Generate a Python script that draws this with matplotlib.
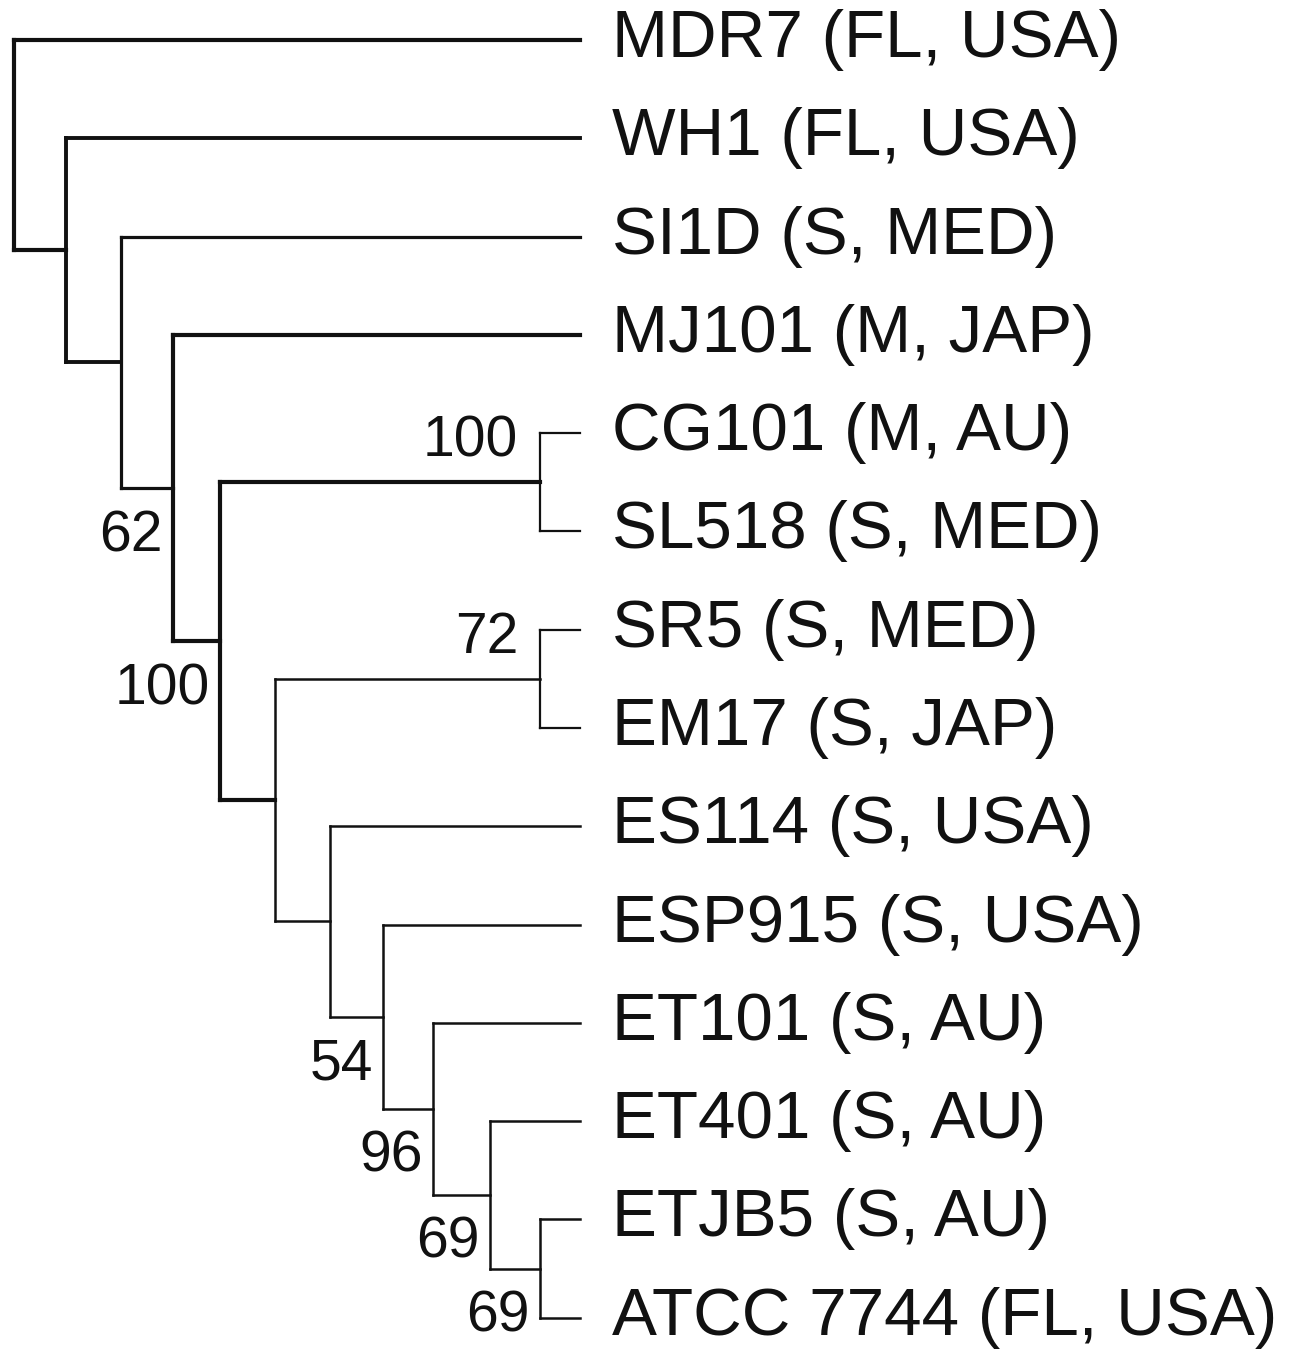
import matplotlib
matplotlib.use("Agg")

import matplotlib.pyplot as plt

# leaves, top to bottom
leaves = ["MDR7 (FL, USA)", "WH1 (FL, USA)", "SI1D (S, MED)", "MJ101 (M, JAP)",
          "CG101 (M, AU)", "SL518 (S, MED)", "SR5 (S, MED)", "EM17 (S, JAP)",
          "ES114 (S, USA)", "ESP915 (S, USA)", "ET101 (S, AU)", "ET401 (S, AU)",
          "ETJB5 (S, AU)", "ATCC 7744 (FL, USA)"]

# internal nodes: children, depth (x), bootstrap support, where the label sits
node_names = ["root", "n1", "n2", "n3", "n4", "n5", "n6",
              "n7", "n8", "n9", "n10", "n11", "n12"]
node_children = [
    ["MDR7 (FL, USA)", "n1"],
    ["WH1 (FL, USA)", "n2"],
    ["SI1D (S, MED)", "n3"],
    ["MJ101 (M, JAP)", "n4"],
    ["n5", "n6"],
    ["CG101 (M, AU)", "SL518 (S, MED)"],
    ["n7", "n8"],
    ["SR5 (S, MED)", "EM17 (S, JAP)"],
    ["ES114 (S, USA)", "n9"],
    ["ESP915 (S, USA)", "n10"],
    ["ET101 (S, AU)", "n11"],
    ["ET401 (S, AU)", "n12"],
    ["ETJB5 (S, AU)", "ATCC 7744 (FL, USA)"],
]
node_depth = [14, 66, 121, 173, 220, 540, 275, 540, 330, 383, 433, 490, 540]
bootstrap = ["", "", "", "62", "100", "100", "", "72", "", "54", "96", "69", "69"]
boot_pos = ["", "", "", "below", "below", "above", "", "above", "", "below", "below", "below", "below"]
node_lw = [3.0, 2.8, 2.3, 3.0, 3.0, 1.6, 1.8, 1.6, 1.8, 1.8, 1.8, 1.8, 1.8]

leaf_depth = 580

fig = plt.figure(figsize=(13.05, 13.55), dpi=100)
ax = fig.add_axes([0, 0, 1, 1])
ax.set_xlim(0, 1305)
ax.set_ylim(13.38, -0.407)
ax.axis("off")

pos = {}
for i, name in enumerate(leaves):
    pos[name] = (leaf_depth, i)

def place(name):
    if name in pos:
        return pos[name]
    k = node_names.index(name)
    ys = [place(c)[1] for c in node_children[k]]
    pos[name] = (node_depth[k], sum(ys) / len(ys))
    return pos[name]

place("root")

for k, name in enumerate(node_names):
    x, y = pos[name]
    ys = [pos[c][1] for c in node_children[k]]
    lw = node_lw[k]
    ax.plot([x, x], [min(ys), max(ys)], color="#111111", lw=lw,
            solid_capstyle="projecting")
    for c in node_children[k]:
        cx, cy = pos[c]
        ax.plot([x, cx], [cy, cy], color="#111111", lw=lw,
                solid_capstyle="projecting")
    if bootstrap[k]:
        if boot_pos[k] == "above":
            ax.annotate(bootstrap[k], (x, y), xytext=(-22, 14),
                        textcoords="offset pixels", ha="right", va="bottom",
                        fontsize=41, family="Liberation Sans", color="#111111")
        else:
            ax.annotate(bootstrap[k], (x, y), xytext=(-10, -21),
                        textcoords="offset pixels", ha="right", va="top",
                        fontsize=41, family="Liberation Sans", color="#111111")

for i, name in enumerate(leaves):
    ax.text(612, i, name, ha="left", va="center", fontsize=48.5,
            family="Liberation Sans", color="#111111")

fig.savefig("out.png", dpi=100, facecolor="white")
